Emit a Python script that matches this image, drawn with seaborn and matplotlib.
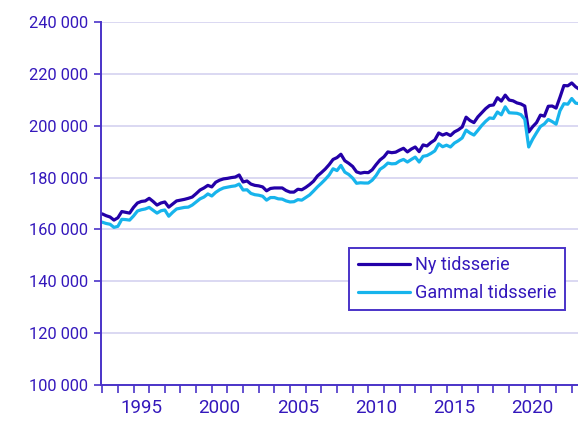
import numpy as np
import pandas as pd
import seaborn as sns
import matplotlib.pyplot as plt
from matplotlib.ticker import FuncFormatter, MultipleLocator, FixedLocator

# ============================================================
# DATA (quarterly, 1993Q1 onward)
# ============================================================
ny_tidsserie = [
    166000, 165300, 164800, 163600, 164500, 166900, 166600, 166300,
    168500, 170200, 170800, 171000, 172000, 170800, 169400, 170200,
    170600, 168600, 169800, 171000, 171300, 171600, 172000, 172500,
    173800, 175200, 176000, 177000, 176400, 178200, 179000, 179500,
    179700, 180000, 180200, 181000, 178300, 178700, 177500, 177000,
    176800, 176400, 174900, 175800, 176000, 176000, 176000, 175000,
    174400, 174400, 175500, 175300, 176200, 177300, 178600, 180600,
    181900, 183300, 185000, 187000, 187700, 189000, 186500, 185500,
    184300, 182200, 181700, 182000, 181900, 183000, 185000, 186800,
    188000, 189900, 189600, 189800, 190600, 191300, 189900, 191000,
    191800, 190000, 192600, 192200, 193500, 194500, 197200, 196400,
    197000, 196200, 197600, 198400, 199500, 203300, 202000, 201200,
    203400, 205000, 206600, 207800, 208000, 210800, 209500, 211800,
    209900, 209600, 208800, 208400, 207600, 197600, 199600, 201200,
    204100, 203700, 207500, 207600, 206800, 211000, 215500, 215400,
    216500, 215000, 214000,
]
gammal_tidsserie = [
    162800, 162300, 162000, 160800, 161200, 163900, 163800, 163600,
    165200, 167100, 167600, 167900, 168500, 167400, 166300, 167200,
    167500, 165100, 166600, 167900, 168200, 168500, 168600, 169400,
    170600, 171800, 172500, 173700, 172900, 174300, 175300, 176000,
    176300, 176600, 176800, 177500, 175200, 175300, 173900, 173400,
    173200, 172800, 171300, 172300, 172300, 171800, 171700, 171000,
    170600, 170700, 171500, 171300, 172300, 173300, 174800, 176400,
    177800, 179300, 181000, 183400, 182700, 184700, 182100, 181200,
    179800, 177800, 178000, 177900, 177900, 179000, 180800, 183200,
    184200, 185600, 185300, 185400, 186400, 187000, 186000, 187000,
    187900, 186000, 188200, 188500, 189300, 190300, 193000, 191900,
    192500, 191800, 193300, 194200, 195300, 198300, 197200, 196400,
    198200, 200100, 201700, 203000, 202800, 205300, 204200, 207300,
    205000, 204900, 204800, 204300, 202500, 191800, 194800, 197300,
    199700, 200700, 202400, 201600, 200600, 205800, 208500, 208300,
    210500, 208700, 208500,
]
series_names = ['Ny tidsserie', 'Gammal tidsserie']
year_labels = ['1995', '2000', '2005', '2010', '2015', '2020']

quarters = pd.period_range('1993Q1', periods=len(ny_tidsserie), freq='Q')
t = quarters.year + (quarters.quarter - 1) / 4

df = pd.concat([
    pd.DataFrame({'t': t, 'value': ny_tidsserie, 'serie': series_names[0]}),
    pd.DataFrame({'t': t, 'value': gammal_tidsserie, 'serie': series_names[1]}),
])

# ============================================================
# STYLE
# ============================================================
sns.set_style('white')
plt.rcParams['font.family'] = ['Roboto', 'DejaVu Sans']
txt_color = '#3418BC'
axis_color = '#4A33C8'
grid_color = '#DAD8F2'
palette = {series_names[0]: '#2300A8', series_names[1]: '#17B4EC'}

# ============================================================
# PLOT
# ============================================================
fig = plt.figure(figsize=(5.78, 4.21), dpi=100)
ax = fig.add_axes([0.1747, 0.0855, 0.8253, 0.8622])

sns.lineplot(data=df, x='t', y='value', hue='serie', palette=palette,
             linewidth=2.3, ax=ax, legend=True)

ax.set_xlim(1992.92, 2023.40)
ax.set_ylim(100000, 240000)
ax.yaxis.set_major_locator(MultipleLocator(20000))
ax.yaxis.set_major_formatter(FuncFormatter(lambda v, p: f'{int(v):,}'.replace(',', ' ')))
ax.grid(axis='y', color=grid_color, linewidth=1.4)
ax.set_axisbelow(True)

# year boundaries as tick marks, labels centred between them
ax.xaxis.set_major_locator(FixedLocator(np.arange(1993, 2024)))
ax.xaxis.set_major_formatter(FuncFormatter(lambda v, p: ''))
ax.xaxis.set_minor_locator(FixedLocator([int(y) + 0.5 for y in year_labels]))
ax.xaxis.set_minor_formatter(FuncFormatter(lambda v, p: f'{int(v)}'))
ax.tick_params(axis='x', which='major', length=6, width=1.2, color=axis_color,
               direction='out', bottom=True)
ax.tick_params(axis='x', which='minor', length=0, pad=10, labelsize=13.5,
               labelcolor=txt_color, bottom=True)
ax.tick_params(axis='y', length=5, width=1.2, color=axis_color, direction='out',
               left=True, labelsize=11.8, labelcolor=txt_color, pad=4)

for s in ['top', 'right']:
    ax.spines[s].set_visible(False)
for s in ['left', 'bottom']:
    ax.spines[s].set_color(axis_color)
    ax.spines[s].set_linewidth(1.4)

ax.set_xlabel('')
ax.set_ylabel('')

leg = ax.legend(loc='upper right', bbox_to_anchor=(0.9727, 0.3774),
                frameon=True, fancybox=False, fontsize=13, handlelength=2.9,
                handletextpad=0.3, borderpad=0.45, labelspacing=0.55,
                borderaxespad=0)
leg.get_frame().set_edgecolor(axis_color)
leg.get_frame().set_linewidth(1.4)
leg.get_frame().set_alpha(1)
for txt in leg.get_texts():
    txt.set_color(txt_color)

fig.savefig('out.png', dpi=100)
